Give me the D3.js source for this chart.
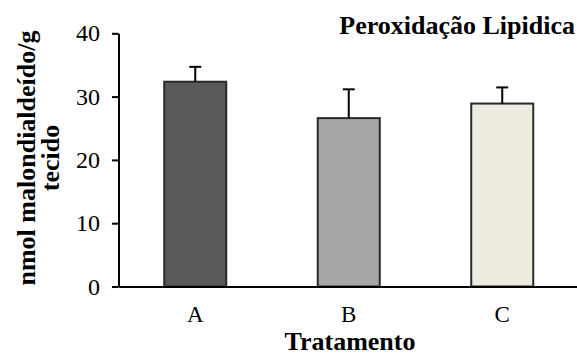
<!DOCTYPE html>
<html>
<head>
<meta charset="utf-8">
<script src="https://cdn.jsdelivr.net/npm/d3@7"></script>
<style>
  html, body { margin: 0; padding: 0; background: #fff; }
  svg { display: block; }
  text { font-family: "Liberation Serif", "Times New Roman", serif; fill: #000; }
</style>
</head>
<body>
<svg id="chart" width="577" height="355"></svg>
<script>
const categories = ["A", "B", "C"];
const values = [32.35, 26.6, 28.9];
const errors = [2.35, 4.55, 2.55];
const yTicks = [0, 10, 20, 30, 40];
const barColors = ["#595959", "#a6a6a6", "#eeece1"];
const title = "Peroxidação Lipidica";
const xTitle = "Tratamento";
const yTitleLines = ["nmol malondialdeído/g", "tecido"];

const svg = d3.select("#chart");
const W = 577, H = 355;
svg.append("rect").attr("width", W).attr("height", H).attr("fill", "#fff");

const x0 = 118.5, x1 = 579, yBottom = 286.5, yTop = 33.3;
const y = d3.scaleLinear().domain([0, 40]).range([yBottom, yTop]);
const x = d3.scaleBand().domain(categories).range([x0, x1])
  .paddingInner(0.596).paddingOuter(0.298);

// bars
svg.append("g").selectAll("rect").data(categories).join("rect")
  .attr("x", d => x(d))
  .attr("y", (d, i) => y(values[i]))
  .attr("width", x.bandwidth())
  .attr("height", (d, i) => y(0) - y(values[i]))
  .attr("fill", (d, i) => barColors[i])
  .attr("stroke", "#2a2a2a")
  .attr("stroke-width", 2);

// error bars
const eg = svg.append("g").attr("stroke", "#000").attr("stroke-width", 2);
categories.forEach((c, i) => {
  const cx = x(c) + x.bandwidth() / 2;
  eg.append("line").attr("x1", cx).attr("x2", cx)
    .attr("y1", y(values[i])).attr("y2", y(values[i] + errors[i]));
  eg.append("line").attr("x1", cx - 6).attr("x2", cx + 6)
    .attr("y1", y(values[i] + errors[i])).attr("y2", y(values[i] + errors[i]));
});

// y axis
const yAxis = svg.append("g").attr("transform", `translate(${x0},0)`)
  .call(d3.axisLeft(y).tickValues(yTicks).tickSize(6.5).tickSizeOuter(0).tickPadding(12));
yAxis.selectAll("path, line").attr("stroke", "#000").attr("stroke-width", 2);
yAxis.selectAll("text").attr("font-size", 24).attr("fill", "#000");

// x axis
const xAxis = svg.append("g").attr("transform", `translate(0,${yBottom})`)
  .call(d3.axisBottom(x).tickSize(0).tickSizeOuter(0).tickPadding(19));
xAxis.selectAll("path").attr("stroke", "#000").attr("stroke-width", 2);
xAxis.selectAll("text").attr("font-size", 23).attr("fill", "#000");

// title
svg.append("text").attr("x", 575).attr("y", 34).attr("text-anchor", "end")
  .attr("font-size", 26).attr("font-weight", "bold").text(title);

// x title
svg.append("text").attr("x", 350).attr("y", 350).attr("text-anchor", "middle")
  .attr("font-size", 26).attr("font-weight", "bold").text(xTitle);

// y title
const yt = svg.append("text").attr("transform", "translate(0,158) rotate(-90)")
  .attr("text-anchor", "middle").attr("font-size", 26).attr("font-weight", "bold");
yt.append("tspan").attr("x", 0).attr("y", 35).text(yTitleLines[0]);
yt.append("tspan").attr("x", 0).attr("y", 59).text(yTitleLines[1]);
</script>
</body>
</html>
